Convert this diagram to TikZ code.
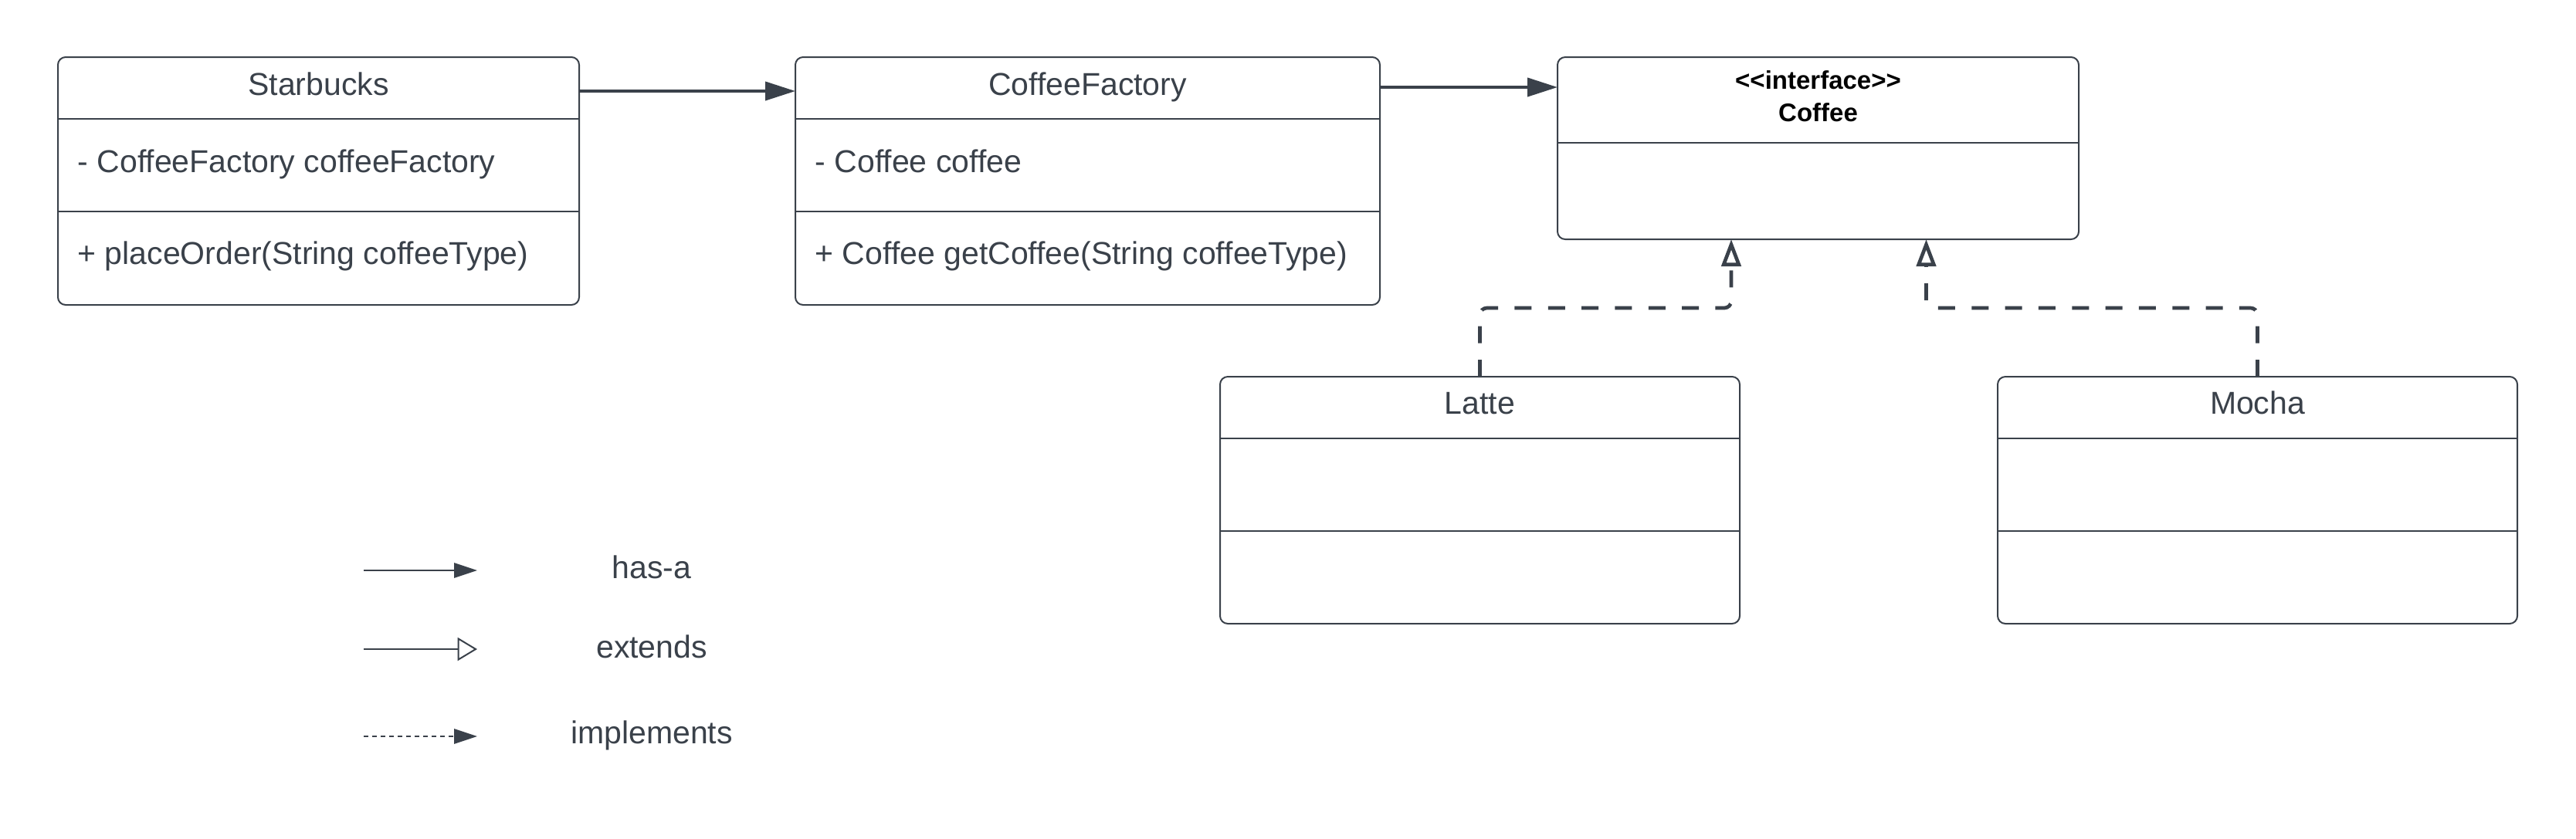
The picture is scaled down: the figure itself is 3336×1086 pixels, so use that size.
\documentclass[tikz,border=0pt]{standalone}
\usepackage{fontspec}
\setmainfont{Liberation Sans}
\usetikzlibrary{arrows.meta,calc}
\definecolor{ink}{HTML}{3A414A}
\begin{document}
\begin{tikzpicture}[x=0.3pt,y=-0.3pt,
  classbox/.style={draw=ink, line width=0.6pt, rounded corners=3pt, rectangle, anchor=north west, outer sep=0pt, inner sep=0pt},
  divider/.style={draw=ink, line width=0.6pt},
  txt/.style={text=ink, inner sep=0pt, font=\fontsize{12.3pt}{14pt}\selectfont},
  boldtxt/.style={text=black, inner sep=0pt, font=\fontsize{9.9pt}{12pt}\selectfont\bfseries},
  hasa/.style={draw=ink, line width=1.2pt, -{Triangle[length=11.7pt,width=7.2pt]}},
  impl/.style={draw=ink, line width=1.4pt, dash pattern=on 6.6pt off 6.4pt, rounded corners=2.7pt, -{Triangle[open,length=10.5pt,width=7.5pt]}},
  leghasa/.style={draw=ink, line width=0.6pt, -{Triangle[length=9pt,width=5.8pt]}},
  legext/.style={draw=ink, line width=0.6pt, -{Triangle[open,length=7.6pt,width=9pt]}},
  legimpl/.style={draw=ink, line width=0.6pt, dash pattern=on 1.8pt off 1.5pt, -{Triangle[length=9pt,width=5.8pt]}},
]
\useasboundingbox (0,0) rectangle (3336,1086);
\fill[white] (0,0) rectangle (3336,1086);

% Starbucks
\node[classbox, minimum width=675*0.3pt, minimum height=321*0.3pt] (sb) at (75,74) {};
\draw[divider] (sb.north west) ++(0,80) coordinate (sb1) -- (sb1 -| sb.east);
\draw[divider] (sb.north west) ++(0,200) coordinate (sb2) -- (sb2 -| sb.east);
\path (sb.north) ++(0,49) node[txt, anchor=base] (sbtitle) {Starbucks};
\path (sb.north west) ++(25,149) node[txt, anchor=base west] (sbattr) {- CoffeeFactory coffeeFactory};
\path (sb.north west) ++(25,268) node[txt, anchor=base west] (sbmeth) {+ placeOrder(String coffeeType)};

% CoffeeFactory
\node[classbox, minimum width=757*0.3pt, minimum height=321*0.3pt] (cf) at (1030,74) {};
\draw[divider] (cf.north west) ++(0,80) coordinate (cf1) -- (cf1 -| cf.east);
\draw[divider] (cf.north west) ++(0,200) coordinate (cf2) -- (cf2 -| cf.east);
\path (cf.north) ++(0,49) node[txt, anchor=base] (cftitle) {CoffeeFactory};
\path (cf.north west) ++(25,149) node[txt, anchor=base west] (cfattr) {- Coffee coffee};
\path (cf.north west) ++(25,268) node[txt, anchor=base west] (cfmeth) {+ Coffee getCoffee(String coffeeType)};

% Coffee interface
\node[classbox, minimum width=675*0.3pt, minimum height=236*0.3pt] (co) at (2017,74) {};
\draw[divider] (co.north west) ++(0,111) coordinate (co1) -- (co1 -| co.east);
\path (co.north) ++(0,41) node[boldtxt, anchor=base] (costereo) {<\kern0pt<interface>\kern0pt>};
\path (co.north) ++(0,83) node[boldtxt, anchor=base] (cotitle) {Coffee};

% Latte
\node[classbox, minimum width=673*0.3pt, minimum height=320*0.3pt] (la) at (1580,488) {};
\draw[divider] (la.north west) ++(0,80) coordinate (la1) -- (la1 -| la.east);
\draw[divider] (la.north west) ++(0,200) coordinate (la2) -- (la2 -| la.east);
\path (la.north) ++(0,48) node[txt, anchor=base] (latitle) {Latte};

% Mocha
\node[classbox, minimum width=673*0.3pt, minimum height=320*0.3pt] (mo) at (2587,488) {};
\draw[divider] (mo.north west) ++(0,80) coordinate (mo1) -- (mo1 -| mo.east);
\draw[divider] (mo.north west) ++(0,200) coordinate (mo2) -- (mo2 -| mo.east);
\path (mo.north) ++(0,48) node[txt, anchor=base] (motitle) {Mocha};

% has-a connectors
\draw[hasa] (sb.north east) ++(0,44) coordinate (h1) -- (h1 -| cf.west);
\draw[hasa] (cf.north east) ++(0,39) coordinate (h2) -- (h2 -| co.west);

% implements connectors
\coordinate (t1) at ([xshift=225*0.3pt]co.south west);
\coordinate (t2) at ([xshift=477.5*0.3pt]co.south west);
\draw[impl] (la.north) -- ++(0,-89) -| (t1);
\draw[impl] (mo.north) -- ++(0,-89) -| (t2);

% legend
\coordinate (l1a) at (471,739); \coordinate (l1b) at (618,739);
\draw[leghasa] (l1a) -- (l1b);
\node[txt, anchor=base] (l1t) at (844,749) {has-a};
\coordinate (l2a) at (471,841); \coordinate (l2b) at (618,841);
\draw[legext] (l2a) -- (l2b);
\node[txt, anchor=base] (l2t) at (844,852) {extends};
\coordinate (l3a) at (471,954); \coordinate (l3b) at (618,954);
\draw[legimpl] (l3a) -- (l3b);
\node[txt, anchor=base] (l3t) at (844,963) {implements};
\end{tikzpicture}
\end{document}
